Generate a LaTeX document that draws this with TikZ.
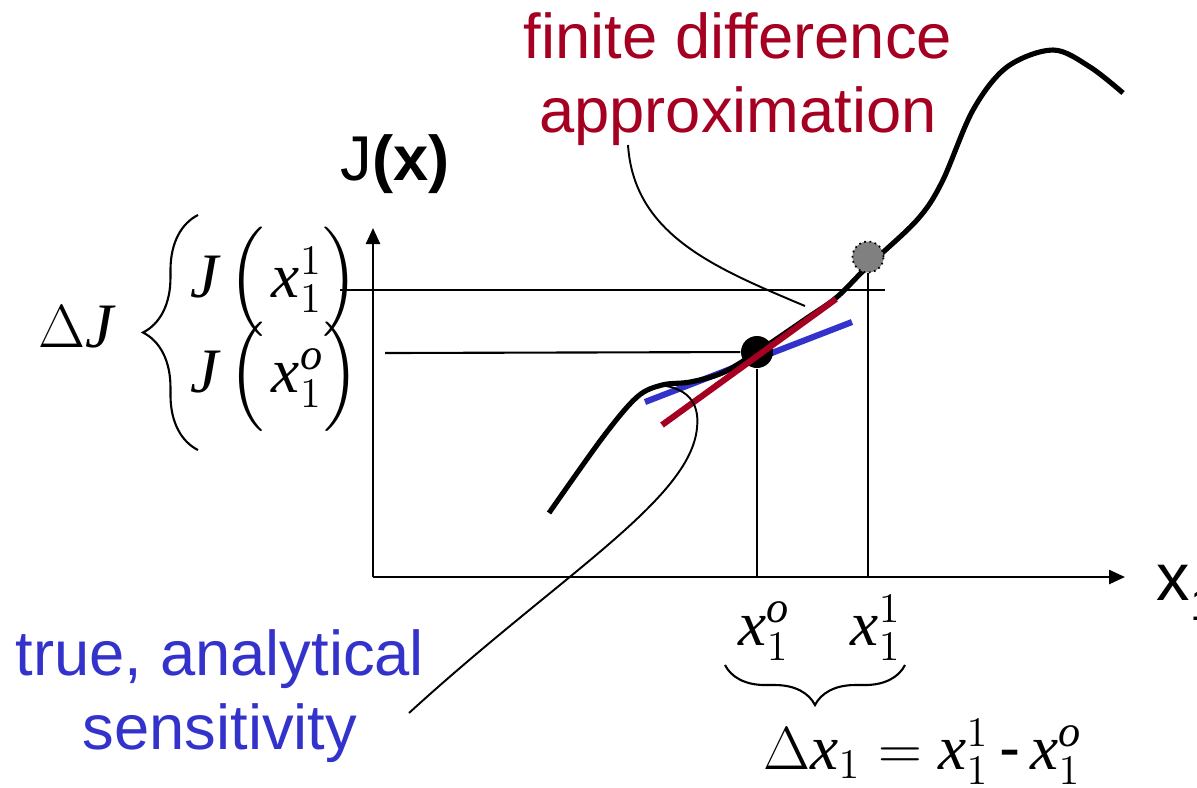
\documentclass[tikz,border=0pt]{standalone}
\usepackage{fontspec}
\setmainfont{Liberation Serif}
\setsansfont{Liberation Sans}
\usepackage{amsmath}
\usetikzlibrary{arrows.meta, decorations.pathreplacing, calc}
\definecolor{fdred}{HTML}{A50021}
\definecolor{senblue}{HTML}{3333CC}

\begin{document}
\begin{tikzpicture}[x=0.01cm, y=-0.01cm,
    every node/.style={inner sep=0pt, font=\fontsize{18}{21}\selectfont},
    axis/.style={line width=0.7pt, -{Triangle[length=0.16cm, width=0.14cm]}},
    guide/.style={line width=0.6pt},
    callout/.style={line width=0.55pt},
    curve/.style={line width=1.45pt},
    slope/.style={line width=1.75pt},
    lbl/.style={font=\sffamily\fontsize{18}{21}\selectfont, align=center},
    mlbl/.style={anchor=base west},
    bracket/.style={decorate, decoration={brace, amplitude=#1}, line width=0.6pt},
    dot/.style={circle, fill=black, minimum size=0.32cm},
    gdot/.style={circle, fill=gray, draw=black, densely dotted, line width=0.5pt, minimum size=0.31cm},
  ]
  \useasboundingbox (0,0) rectangle (1197,787);

  % axes
  \coordinate (O) at (373,577);
  \coordinate (ytip) at (373,228);
  \coordinate (xtip) at (1125,577);
  \draw[axis] (O) -- (ytip);
  \draw[axis] (O) -- (xtip);
  \node[anchor=base west, font=\sffamily\fontsize{18}{21}\selectfont] (yname) at (340,180) {J\textbf{(x)}};
  \node[anchor=base west, font=\sffamily\fontsize{19}{21}\selectfont] (xname) at (1156,600) {x\raisebox{-0.3em}{\fontsize{13}{13}\selectfont 1}};

  % sensitivity slopes and curve
  \coordinate (b0) at (645,402);
  \coordinate (b1) at (852,322);
  \draw[slope, senblue] (b0) -- (b1);
  \draw[curve] plot[smooth, tension=0.55] coordinates {
    (549,513) (603,437) (637,397) (662,385) (690,382) (722,373)
    (757,352) (807,318) (837,297) (868,266) (917,220) (942,182)
    (973,110) (1007,67) (1053,50) (1090,67) (1123,93)};
  \node[dot] (P0) at (757,352) {};
  \node[gdot] (P1) at (868,257) {};
  \coordinate (r0) at (662,425);
  \coordinate (r1) at (836,299);
  \draw[slope, fdred] (r0) -- (r1);

  % guide lines
  \coordinate (h1a) at (340,290);
  \coordinate (h1b) at (885,290);
  \coordinate (h0a) at (385,353);
  \draw[guide] (h1a) -- (h1b);
  \draw[guide] (h0a) -- (P0);
  \draw[guide] (P0) -- (P0 |- O);
  \draw[guide] (P1) -- (P1 |- O);

  % left labels and brace
  \node[mlbl] (J1) at (190,297) {$\mathit{J}\,\Big(\mspace{2mu}\mathit{x}_1^{1}\Big)$};
  \node[mlbl] (J0) at (190,392) {$\mathit{J}\,\Big(\mspace{2mu}\mathit{x}_1^{\mathit{o}}\Big)$};
  \coordinate (lb0) at (198,450);
  \coordinate (lb1) at (198,215);
  \draw[bracket=0.55cm] (lb0) -- (lb1);
  \node[mlbl] (dJ) at (38,347) {$\Delta\mathit{J}$};

  % bottom labels and brace
  \node[mlbl] (x0) at (738,645) {$\mathit{x}_1^{\mathit{o}}$};
  \node[mlbl] (x1) at (850,645) {$\mathit{x}_1^{1}$};
  \coordinate (bb0) at (905,665);
  \coordinate (bb1) at (725,665);
  \draw[bracket=0.4cm] (bb0) -- (bb1);
  \node[mlbl] (dx) at (763,769) {$\Delta\mathit{x}_1 = \mathit{x}_1^{1}\,\text{\sffamily -}\,\mathit{x}_1^{\mathit{o}}$};

  % callouts
  \node[lbl, text=fdred] (fd) at (738,79) {finite difference\\approximation};
  \node[lbl, text=senblue] (sens) at (220,696) {true, analytical\\sensitivity};
  \coordinate (fdfrom) at (628,145);
  \coordinate (fdto) at (805,306);
  \coordinate (snfrom) at (409,713);
  \coordinate (snto) at (660,385);
  \draw[callout] (fdfrom) .. controls (634,235) and (715,268) .. (fdto);
  \draw[callout] (snfrom) .. controls (560,575) and (690,500) .. (697,428)
    .. controls (700,400) and (685,388) .. (snto);
\end{tikzpicture}
\end{document}
